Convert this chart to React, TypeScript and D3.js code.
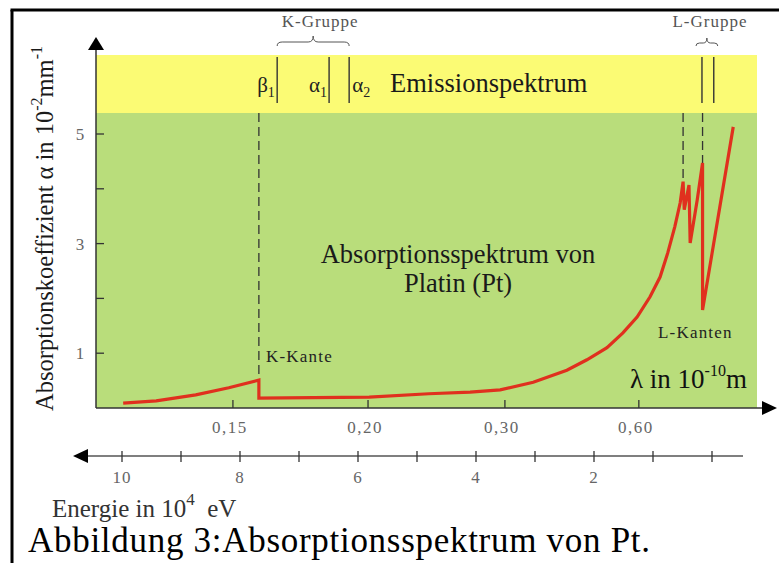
import React, { useEffect, useRef } from "react";
import * as d3 from "d3";

// ---- data ----
// curve: photon energy (10^4 eV, bottom axis) vs absorption coefficient (10^-2 mm^-1)
const curveEnergy = [9.98, 9.42, 8.75, 8.19, 7.68, 7.68, 5.81, 4.8, 4.1, 3.59, 3.03, 2.46, 2.12, 1.78, 1.51, 1.27, 1.05, 0.88, 0.75, 0.63, 0.54, 0.49, 0.47, 0.39, 0.37, 0.25, 0.16, 0.16, -0.36];
const curveAlpha = [0.09, 0.13, 0.24, 0.37, 0.51, 0.18, 0.2, 0.26, 0.29, 0.33, 0.47, 0.69, 0.88, 1.1, 1.37, 1.66, 2.03, 2.39, 2.83, 3.31, 3.74, 4.13, 3.62, 4.07, 3.01, 3.8, 4.47, 1.79, 5.13];

const energyTicks = [10, 9, 8, 7, 6, 5, 4, 3, 2, 1, 0];
const energyLabels = [10, 8, 6, 4, 2];
const alphaTicks = [1, 2, 3, 4, 5];
const alphaLabels = [1, 3, 5];
const lambdaTickLabels = ["0,15", "0,20", "0,30", "0,60"];
const lambdaTickEnergy = [8.12, 5.83, 3.51, 1.24];

const kEdgeEnergy = 7.68;
const kEdgeAlpha = 0.51;
const lEdgeEnergy = [0.49, 0.16];
const lEdgeAlpha = [4.13, 4.47];
const kLineNames = ["β", "α", "α"];
const kLineSubs = ["1", "1", "2"];
const kLineEnergy = [7.37, 6.49, 6.15];
const lLineEnergy = [0.17, -0.03];

const W = 779;
const H = 563;
const plotLeft = 96;
const plotRight = 757;
const yellowTop = 55;
const greenTop = 113;
const axisY = 408;
const eAxisY = 456;

const FAM = '"Liberation Serif", "Tinos", "Times New Roman", "Times", "FreeSerif", serif';

export default function App() {
  const ref = useRef<SVGSVGElement>(null);
  const x = d3.scaleLinear().domain([10, 0]).range([122, 712]);
  const y = d3.scaleLinear().domain([0, 5]).range([axisY, 134]);

  useEffect(() => {
    if (!ref.current) return;
    d3.select(ref.current)
      .selectAll<SVGTextElement, unknown>("text, tspan")
      .style("font-family", FAM, "important");
  }, []);

  const pts: [number, number][] = curveEnergy.map((e, i) => [e, curveAlpha[i]]);
  const line = d3
    .line<[number, number]>()
    .x((d) => x(d[0]))
    .y((d) => y(d[1]))
    .curve(d3.curveLinear);

  const brace = (x1: number, x2: number, yb: number, yt: number) => {
    const xm = (x1 + x2) / 2;
    const ym = (yb + yt) / 2 + 1;
    const r = Math.min(5, (x2 - x1) / 6);
    return `M${x1},${yb} Q${x1},${ym} ${x1 + r},${ym} L${xm - r},${ym} Q${xm},${ym} ${xm},${yt} Q${xm},${ym} ${xm + r},${ym} L${x2 - r},${ym} Q${x2},${ym} ${x2},${yb}`;
  };

  const kx1 = x(kLineEnergy[0]);
  const kx2 = x(kLineEnergy[2]);
  const lx1 = x(lLineEnergy[0]) - 6;
  const lx2 = x(lLineEnergy[1]) + 4;

  return (
    <svg ref={ref} width={W} height={H} style={{ position: "absolute", left: 0, top: 0, background: "#fff", fontFamily: FAM }}>
      {/* frame */}
      <line x1={12} y1={10} x2={12} y2={H} stroke="#000" strokeWidth={3} />
      <line x1={10.5} y1={10} x2={W} y2={10} stroke="#000" strokeWidth={3} />

      {/* backgrounds */}
      <rect x={plotLeft} y={yellowTop} width={plotRight - plotLeft} height={greenTop - yellowTop} fill="#fbfb74" />
      <rect x={plotLeft} y={greenTop} width={plotRight - plotLeft} height={axisY - greenTop} fill="#b9dd7b" />

      {/* emission lines */}
      {kLineEnergy.map((e, i) => (
        <line key={"k" + i} x1={x(e)} x2={x(e)} y1={57} y2={103} stroke="#333" strokeWidth={1.4} />
      ))}
      {lLineEnergy.map((e, i) => (
        <line key={"l" + i} x1={x(e)} x2={x(e)} y1={57} y2={103} stroke="#333" strokeWidth={1.4} />
      ))}
      {kLineNames.map((n, i) => {
        const xe = x(kLineEnergy[i]);
        const tx = i === 2 ? xe + 3 : xe - 20;
        return (
          <text key={"kl" + i} x={tx} y={92} fontSize={21} fill="#222">
            {n}
            <tspan fontSize={14} dy={5}>{kLineSubs[i]}</tspan>
          </text>
        );
      })}
      <text x={390} y={92} fontSize={26.5} fill="#1a1a1a">Emissionspektrum</text>

      {/* group braces */}
      <path d={brace(kx1, kx2, 46, 36)} fill="none" stroke="#555" strokeWidth={1} />
      <text x={(kx1 + kx2) / 2 + 7} y={27} fontSize={17} fill="#555" textAnchor="middle" letterSpacing={1}>K-Gruppe</text>
      <path d={brace(lx1, lx2, 46, 38)} fill="none" stroke="#555" strokeWidth={1} />
      <text x={710} y={27} fontSize={17} fill="#555" textAnchor="middle" letterSpacing={1}>L-Gruppe</text>

      {/* edge dashed lines */}
      <line x1={x(kEdgeEnergy)} x2={x(kEdgeEnergy)} y1={greenTop} y2={y(kEdgeAlpha)} stroke="#333" strokeWidth={1.3} strokeDasharray="9,5" />
      {lEdgeEnergy.map((e, i) => (
        <line key={"ld" + i} x1={x(e)} x2={x(e)} y1={greenTop} y2={y(lEdgeAlpha[i])} stroke="#333" strokeWidth={1.3} strokeDasharray="9,5" />
      ))}

      {/* curve */}
      <path d={line(pts) || ""} fill="none" stroke="#e0301e" strokeWidth={3.2} strokeLinejoin="miter" strokeMiterlimit={3} />

      {/* y axis */}
      <line x1={plotLeft} x2={plotLeft} y1={48} y2={axisY} stroke="#333" strokeWidth={1.5} />
      <path d={`M${plotLeft},37 L${plotLeft - 8},50 L${plotLeft + 8},50 Z`} fill="#000" />
      {alphaTicks.map((t) => (
        <line key={"yt" + t} x1={plotLeft} x2={plotLeft + 8} y1={y(t)} y2={y(t)} stroke="#333" strokeWidth={1.3} />
      ))}
      {alphaLabels.map((t) => (
        <text key={"yl" + t} x={80} y={y(t) + 6} fontSize={17} fill="#666" textAnchor="middle">{t}</text>
      ))}

      {/* lambda axis */}
      <line x1={plotLeft} x2={764} y1={axisY} y2={axisY} stroke="#333" strokeWidth={1.5} />
      <path d={`M777,${axisY} L762,${axisY - 7} L762,${axisY + 7} Z`} fill="#000" />
      {lambdaTickEnergy.map((e, i) => (
        <g key={"lt" + i}>
          <line x1={x(e)} x2={x(e)} y1={axisY - 8} y2={axisY} stroke="#333" strokeWidth={1.3} />
          <text x={x(e) - 3} y={433} fontSize={17} fill="#666" textAnchor="middle" letterSpacing={1.5}>
            {lambdaTickLabels[i]}
          </text>
        </g>
      ))}

      {/* energy axis */}
      <line x1={86} x2={743} y1={eAxisY} y2={eAxisY} stroke="#555" strokeWidth={1.3} />
      <path d={`M73,${eAxisY} L88,${eAxisY - 7} L88,${eAxisY + 7} Z`} fill="#000" />
      {energyTicks.map((t) => (
        <line key={"et" + t} x1={x(t)} x2={x(t)} y1={eAxisY - 5} y2={eAxisY + 6} stroke="#333" strokeWidth={1.3} />
      ))}
      {energyLabels.map((t) => (
        <text key={"el" + t} x={x(t)} y={483} fontSize={17} fill="#666" textAnchor="middle" letterSpacing={1}>{t}</text>
      ))}

      {/* annotations */}
      <text x={458} y={263} fontSize={26.5} fill="#1a1a1a" textAnchor="middle">Absorptionsspektrum von</text>
      <text x={458} y={292} fontSize={26.5} fill="#1a1a1a" textAnchor="middle">Platin (Pt)</text>
      <text x={266} y={362} fontSize={17} fill="#222" letterSpacing={1.2}>K-Kante</text>
      <text x={658} y={338} fontSize={17} fill="#222" letterSpacing={1.2}>L-Kanten</text>
      <text x={630} y={388} fontSize={27} fill="#111">
        λ in 10<tspan fontSize={16} dy={-12}>-10</tspan><tspan dy={12}>m</tspan>
      </text>

      {/* y title */}
      <text transform="translate(53,411) rotate(-90)" fontSize={24.5} fill="#1a1a1a">
        Absorptionskoeffizient α in 10
        <tspan fontSize={16} dy={-11}>-2</tspan>
        <tspan dy={11}>mm</tspan>
        <tspan fontSize={16} dy={-11}>-1</tspan>
      </text>

      {/* energy title */}
      <text x={52} y={517} fontSize={25} fill="#333">
        Energie in 10<tspan fontSize={17} dy={-12}>4</tspan>
        <tspan dy={12}>{"\u00a0 eV"}</tspan>
      </text>

      {/* caption */}
      <text x={28} y={552} fontSize={35} fill="#000" textLength={622} lengthAdjust="spacing">
        Abbildung 3:Absorptionsspektrum von Pt.
      </text>
    </svg>
  );
}
